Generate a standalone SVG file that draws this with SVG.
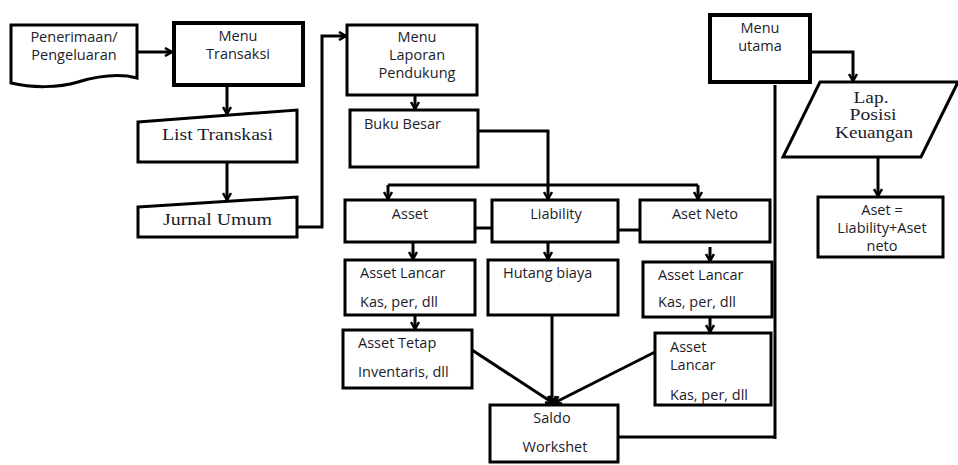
<svg xmlns="http://www.w3.org/2000/svg" width="958" height="465" viewBox="0 0 958 465">
<style>
.b{fill:#fff;stroke:#000;stroke-width:3}
.bt{fill:#fff;stroke:#000;stroke-width:4}
.t{font-family:"Open Sans","Liberation Sans",sans-serif;font-size:14.5px;fill:#1c1c2c}
.s{font-family:"Liberation Serif",serif;font-size:16px;fill:#1c1c2c}
.c{fill:none;stroke:#000;stroke-width:3}
.ca{fill:none;stroke:#000;stroke-width:3;marker-end:url(#a)}
</style>
<defs>
<marker id="a" viewBox="0 0 10 10" refX="8" refY="5" markerWidth="10" markerHeight="10" orient="auto" markerUnits="userSpaceOnUse">
<path d="M1,1 L8,5 L1,9" fill="none" stroke="#000" stroke-width="2.5"/>
</marker>
</defs>
<rect width="958" height="465" fill="#fff"/>
<g id="connectors">
<path class="ca" d="M137,52 H172"/>
<path class="ca" d="M227,85 V114"/>
<path class="ca" d="M227,162 V200"/>
<path class="ca" d="M297,227 H322 V36 H346"/>
<path class="ca" d="M415,95 V109"/>
<path class="ca" d="M478,131 H548 V199"/>
<path class="c" d="M388,185 H698"/>
<path class="ca" d="M388,185 V199"/>
<path class="ca" d="M698,185 V199"/>
<path class="c" d="M475,228 H492"/>
<path class="c" d="M618,230 H640"/>
<path class="ca" d="M413,242 V259"/>
<path class="ca" d="M548,242 V259"/>
<path class="ca" d="M710,247 V261"/>
<path class="ca" d="M415,315 V329"/>
<path class="ca" d="M710,317 V332"/>
<path class="ca" d="M472,350 L553,403"/>
<path class="ca" d="M552,315 V403"/>
<path class="ca" d="M655,352 L554,403"/>
<path class="c" d="M618,437 H775"/>
<path class="c" d="M775,85 V439" stroke-width="4.5"/>
<path class="ca" d="M810,52 H853 V81"/>
<path class="ca" d="M878,157 V196"/>
</g>
<g id="penerimaan">
<path class="b" d="M11,25 H137 V78 C118,73 98,76 78,82 C58,88 32,88 11,83 Z"/>
<text class="t" x="74" y="42" text-anchor="middle">Penerimaan/</text>
<text class="t" x="74" y="60" text-anchor="middle">Pengeluaran</text>
</g>
<g id="menu-transaksi">
<rect class="bt" x="174" y="23" width="129" height="62"/>
<text class="t" x="238" y="41" text-anchor="middle">Menu</text>
<text class="t" x="238" y="59" text-anchor="middle">Transaksi</text>
</g>
<g id="list-transkasi">
<path class="b" d="M138,122 L297,110 V162 H138 Z"/>
<text class="s" x="162" y="140" textLength="111" lengthAdjust="spacingAndGlyphs">List Transkasi</text>
</g>
<g id="jurnal-umum">
<path class="b" d="M138,207 L297,197 V237 H138 Z"/>
<text class="s" x="163" y="225" textLength="109" lengthAdjust="spacingAndGlyphs">Jurnal Umum</text>
</g>
<g id="menu-laporan">
<rect class="b" x="347" y="25" width="130" height="70"/>
<text class="t" x="417" y="42" text-anchor="middle">Menu</text>
<text class="t" x="417" y="60" text-anchor="middle">Laporan</text>
<text class="t" x="417" y="78" text-anchor="middle">Pendukung</text>
</g>
<g id="buku-besar">
<rect class="b" x="350" y="110" width="128" height="57"/>
<text class="t" x="364" y="129">Buku Besar</text>
</g>
<g id="asset">
<rect class="b" x="345" y="200" width="130" height="42"/>
<text class="t" x="410" y="219" text-anchor="middle">Asset</text>
</g>
<g id="liability">
<rect class="b" x="492" y="200" width="126" height="42"/>
<text class="t" x="556" y="219" text-anchor="middle">Liability</text>
</g>
<g id="aset-neto">
<rect class="b" x="640" y="200" width="130" height="42"/>
<text class="t" x="705" y="219" text-anchor="middle">Aset Neto</text>
</g>
<g id="asset-lancar-1">
<rect class="b" x="345" y="260" width="130" height="55"/>
<text class="t" x="360" y="278">Asset Lancar</text>
<text class="t" x="360" y="307">Kas, per, dll</text>
</g>
<g id="hutang-biaya">
<rect class="b" x="488" y="260" width="130" height="55"/>
<text class="t" x="503" y="278">Hutang biaya</text>
</g>
<g id="asset-lancar-2">
<rect class="b" x="643" y="262" width="129" height="55"/>
<text class="t" x="658" y="280">Asset Lancar</text>
<text class="t" x="658" y="307">Kas, per, dll</text>
</g>
<g id="asset-tetap">
<rect class="b" x="343" y="330" width="129" height="58"/>
<text class="t" x="358" y="348">Asset Tetap</text>
<text class="t" x="358" y="377">Inventaris, dll</text>
</g>
<g id="asset-lancar-3">
<rect class="b" x="655" y="333" width="116" height="72"/>
<text class="t" x="670" y="352">Asset</text>
<text class="t" x="670" y="370">Lancar</text>
<text class="t" x="670" y="400">Kas, per, dll</text>
</g>
<g id="saldo">
<rect class="b" x="490" y="405" width="128" height="57"/>
<text class="t" x="552" y="423" text-anchor="middle">Saldo</text>
<text class="t" x="555" y="452" text-anchor="middle">Workshet</text>
</g>
<g id="menu-utama">
<rect class="bt" x="710" y="15" width="100" height="67"/>
<text class="t" x="760" y="33" text-anchor="middle">Menu</text>
<text class="t" x="760" y="51" text-anchor="middle">utama</text>
</g>
<g id="lap-posisi">
<path class="b" d="M820,82 H958 L921,157 H783 Z"/>
<text class="s" x="871" y="103" text-anchor="middle" textLength="35" lengthAdjust="spacingAndGlyphs">Lap.</text>
<text class="s" x="873" y="120" text-anchor="middle" textLength="47" lengthAdjust="spacingAndGlyphs">Posisi</text>
<text class="s" x="874" y="138" text-anchor="middle" textLength="78" lengthAdjust="spacingAndGlyphs">Keuangan</text>
</g>
<g id="aset-eq">
<rect class="b" x="818" y="197" width="125" height="60"/>
<text class="t" x="882" y="215" text-anchor="middle">Aset =</text>
<text class="t" x="882" y="233" text-anchor="middle">Liability+Aset</text>
<text class="t" x="882" y="251" text-anchor="middle">neto</text>
</g>
</svg>
